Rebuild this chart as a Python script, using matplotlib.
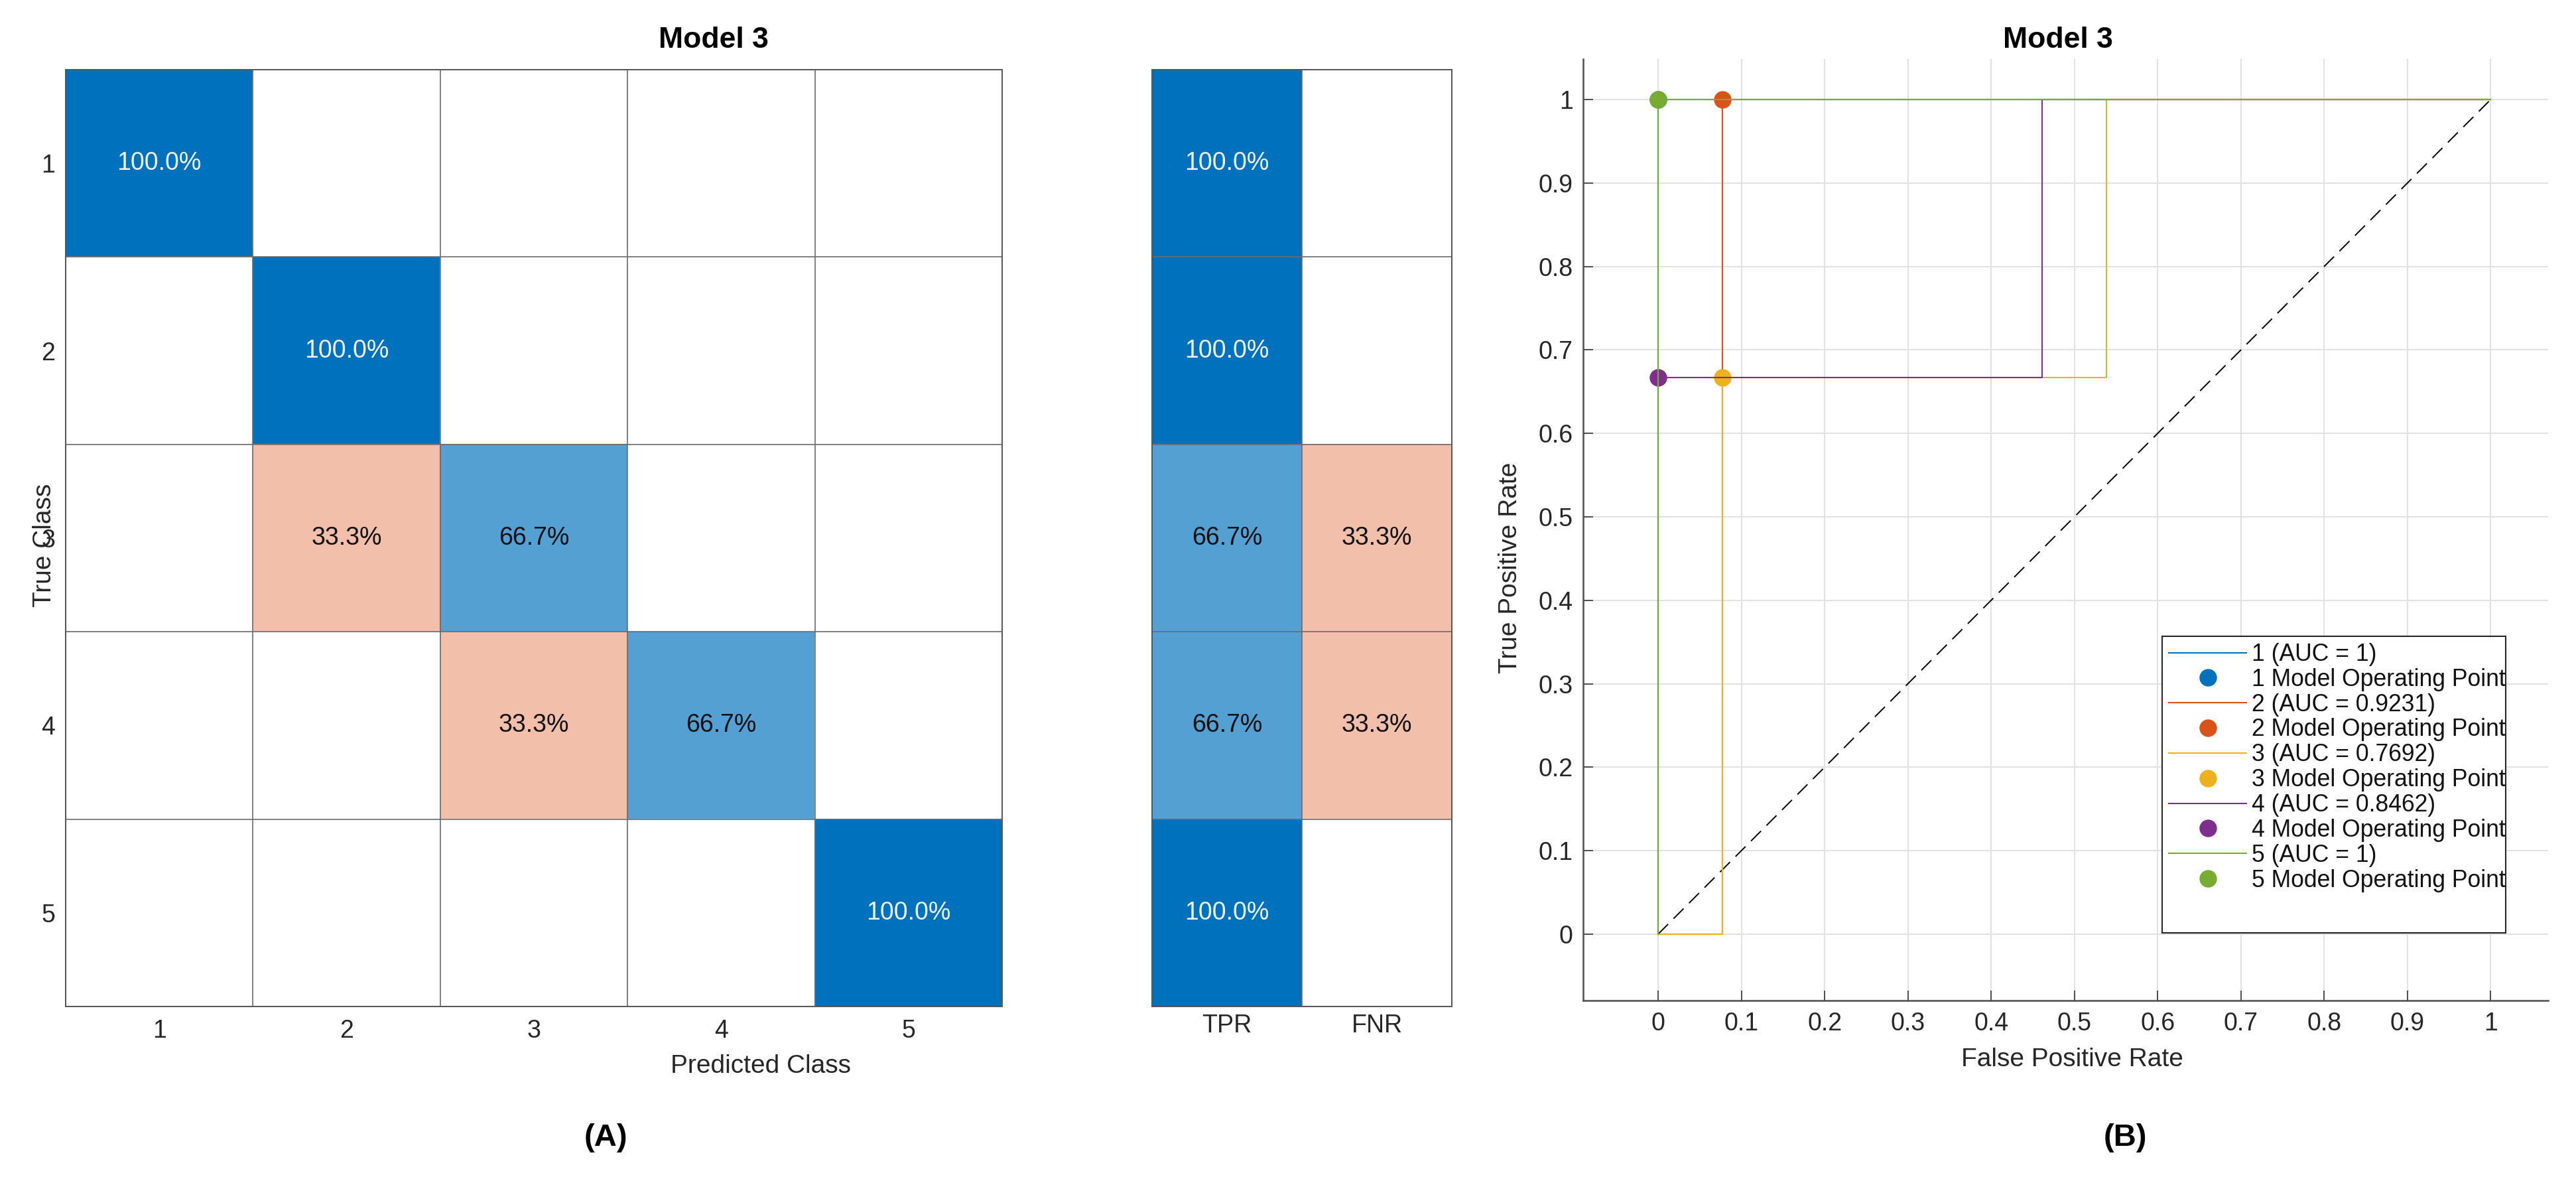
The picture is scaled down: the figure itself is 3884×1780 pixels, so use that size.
import matplotlib
matplotlib.use("Agg")
import matplotlib.pyplot as plt
import numpy as np
from matplotlib.patches import Rectangle
from matplotlib.ticker import FixedLocator, FormatStrFormatter

# ---------------- data ----------------
class_labels = ["1", "2", "3", "4", "5"]
# row-normalised confusion matrix (%), rows = true class, cols = predicted class
cm_pct = [
    [100.0, 0, 0, 0, 0],
    [0, 100.0, 0, 0, 0],
    [0, 33.3, 66.7, 0, 0],
    [0, 0, 33.3, 66.7, 0],
    [0, 0, 0, 0, 100.0],
]
summary_labels = ["TPR", "FNR"]
tpr_pct = [100.0, 100.0, 66.7, 66.7, 100.0]
fnr_pct = [0, 0, 33.3, 33.3, 0]

roc_fpr_1 = [0, 0, 1]
roc_tpr_1 = [0, 1, 1]
roc_fpr_2 = [0, 0.0769, 0.0769, 1]
roc_tpr_2 = [0, 0, 1, 1]
roc_fpr_3 = [0, 0.0769, 0.0769, 0.5385, 0.5385, 1]
roc_tpr_3 = [0, 0, 0.6667, 0.6667, 1, 1]
roc_fpr_4 = [0, 0, 0.4615, 0.4615, 1]
roc_tpr_4 = [0, 0.6667, 0.6667, 1, 1]
roc_fpr_5 = [0, 0, 1]
roc_tpr_5 = [0, 1, 1]
auc_values = ["1", "0.9231", "0.7692", "0.8462", "1"]
op_fpr = [0, 0.0769, 0.0769, 0, 0]
op_tpr = [1, 1, 0.6667, 0.6667, 1]
roc_ticks = [0, 0.1, 0.2, 0.3, 0.4, 0.5, 0.6, 0.7, 0.8, 0.9, 1]

roc_fpr = [roc_fpr_1, roc_fpr_2, roc_fpr_3, roc_fpr_4, roc_fpr_5]
roc_tpr = [roc_tpr_1, roc_tpr_2, roc_tpr_3, roc_tpr_4, roc_tpr_5]

# ---------------- style ----------------
plt.rcParams["font.family"] = ["Liberation Sans", "DejaVu Sans"]
W, H, DPI = 3884, 1780, 100
BLUE = (0 / 255, 114 / 255, 189 / 255)
ORANGE = (217 / 255, 83 / 255, 25 / 255)
OFF_GAIN = 1.1
line_colors = ["#0072BD", "#D95319", "#EDB120", "#7E2F8E", "#77AC30"]
TXT = "#262626"
GRIDC = "#6b6b6b"

fig = plt.figure(figsize=(W / DPI, H / DPI), dpi=DPI)
fig.patch.set_facecolor("white")


def axes_px(left, top, right, bottom):
    return fig.add_axes([left / W, 1 - bottom / H, (right - left) / W, (bottom - top) / H])


def shade(v, base, gain=1.0):
    a = min(1.0, v / 100.0 * gain)
    return tuple(1 - a * (1 - c) for c in base), a


def draw_cells(ax, values, diag_fn):
    values = np.asarray(values, dtype=float)
    nr, nc = values.shape
    rgb = np.ones((nr, nc, 3))
    for i in range(nr):
        for j in range(nc):
            v = values[i, j]
            if v > 0:
                is_diag = diag_fn(i, j)
                col, a = shade(v, BLUE if is_diag else ORANGE, 1.0 if is_diag else OFF_GAIN)
                rgb[i, j] = col
                ax.text(j, i, f"{v:.1f}%", ha="center", va="center", fontsize=27,
                        color="#f2f2f2" if a > 0.8 else "#111111", zorder=3)
    ax.imshow(rgb, aspect="auto", interpolation="nearest", zorder=0)
    ax.set_xticks(np.arange(-0.5, nc, 1), minor=True)
    ax.set_yticks(np.arange(-0.5, nr, 1), minor=True)
    ax.grid(which="minor", color=GRIDC, lw=1.2)
    ax.grid(which="major", visible=False)
    ax.tick_params(which="both", length=0)
    for s in ax.spines.values():
        s.set_color("#555555")
        s.set_linewidth(1.4)


# ---------------- (A) confusion matrix ----------------
CM_L, CM_T, CM_R, CM_B = 99, 105, 1511, 1517
ax_cm = axes_px(CM_L, CM_T, CM_R, CM_B)
draw_cells(ax_cm, cm_pct, lambda i, j: i == j)
ax_cm.set_xticks(range(5))
ax_cm.set_xticklabels(class_labels)
ax_cm.set_yticks(range(5))
ax_cm.set_yticklabels(class_labels)
ax_cm.tick_params(which="major", labelsize=27, labelcolor=TXT)
ax_cm.tick_params(axis="x", pad=14)
ax_cm.tick_params(axis="y", pad=11.5)
cw, ch = CM_R - CM_L, CM_B - CM_T
ax_cm.set_xlabel("Predicted Class", fontsize=28, color=TXT)
ax_cm.xaxis.set_label_coords((1147 - CM_L) / cw, (CM_B - 1607) / ch)
ax_cm.xaxis.label.set_va("center")
ax_cm.set_ylabel("True Class", fontsize=28, color=TXT)
ax_cm.yaxis.set_label_coords((67 - CM_L) / cw, (CM_B - 822) / ch)
ax_cm.yaxis.label.set_va("center")
ax_cm.set_title("Model 3", fontsize=32, fontweight="bold",
                x=(1076 - CM_L) / cw, y=(CM_B - 61) / ch, va="center", pad=0)

# summary (TPR / FNR)
SM_L, SM_R = 1737, 2189
ax_sm = axes_px(SM_L, CM_T, SM_R, CM_B)
summary = np.column_stack([tpr_pct, fnr_pct])
draw_cells(ax_sm, summary, lambda i, j: j == 0)
ax_sm.set_xticks(range(2))
ax_sm.set_xticklabels(summary_labels)
ax_sm.set_yticks([])
ax_sm.tick_params(which="major", labelsize=27, labelcolor=TXT)
ax_sm.tick_params(axis="x", pad=8)

# ---------------- (B) ROC ----------------
R_L, R_T, R_R, R_B = 2387, 89, 3842, 1508
ax_r = axes_px(R_L, R_T, R_R, R_B)
ax_r.plot([0, 1], [0, 1], color="black", lw=1.4, dashes=(11, 6), zorder=2)
for k in range(5):
    ax_r.plot(roc_fpr[k], roc_tpr[k], color=line_colors[k], lw=1.5,
              label=f"{class_labels[k]} (AUC = {auc_values[k]})")
    ax_r.plot([op_fpr[k]], [op_tpr[k]], linestyle="none", marker="o", ms=18,
              color=line_colors[k], label=f"{class_labels[k]} Model Operating Point")

ax_r.set_xlim(-0.090, 1.069)
ax_r.set_ylim(-0.0795, 1.0485)
ax_r.xaxis.set_major_locator(FixedLocator(roc_ticks))
ax_r.yaxis.set_major_locator(FixedLocator(roc_ticks))
ax_r.xaxis.set_major_formatter(FormatStrFormatter("%g"))
ax_r.yaxis.set_major_formatter(FormatStrFormatter("%g"))
ax_r.grid(True, color="#e2e2e2", lw=1.5)
ax_r.set_axisbelow(True)
for side in ["top", "right"]:
    ax_r.spines[side].set_visible(False)
for side in ["left", "bottom"]:
    ax_r.spines[side].set_color("#4d4d4d")
    ax_r.spines[side].set_linewidth(1.8)
ax_r.tick_params(direction="in", length=11, width=1.4, color="#4d4d4d",
                 labelsize=27, labelcolor=TXT)
ax_r.tick_params(axis="x", pad=12)
ax_r.tick_params(axis="y", pad=11)
rw, rh = R_R - R_L, R_B - R_T
ax_r.set_xlabel("False Positive Rate", fontsize=28, color=TXT)
ax_r.xaxis.set_label_coords((3124 - R_L) / rw, (R_B - 1597) / rh)
ax_r.xaxis.label.set_va("center")
ax_r.set_ylabel("True Positive Rate", fontsize=28, color=TXT)
ax_r.yaxis.set_label_coords((2277 - R_L) / rw, (R_B - 856) / rh)
ax_r.yaxis.label.set_va("center")
ax_r.set_title("Model 3", fontsize=32, fontweight="bold",
               x=(3103 - R_L) / rw, y=(R_B - 60) / rh, va="center", pad=0)

# legend with a fixed (clipping) frame like the original
LG_L, LG_T, LG_R, LG_B = 3260, 959, 3778, 1406
frame = Rectangle((LG_L / W, 1 - LG_B / H), (LG_R - LG_L) / W, (LG_B - LG_T) / H,
                  transform=fig.transFigure, facecolor="white", edgecolor="#262626",
                  lw=1.5, zorder=4, clip_on=False)
ax_r.add_patch(frame)
leg = ax_r.legend(loc="upper left", bbox_to_anchor=(LG_L / W, 1 - LG_T / H),
                  bbox_transform=fig.transFigure, frameon=False, fontsize=25.6,
                  borderaxespad=0, borderpad=0.28, labelspacing=0.08,
                  handlelength=3.3, handletextpad=0.23, numpoints=1)
leg.set_zorder(5)
for t in leg.get_texts():
    t.set_color("#111111")
    t.set_clip_path(frame)

# panel letters
fig.text(913 / W, 1 - 1715 / H, "(A)", fontsize=34, fontweight="bold", ha="center", va="center")
fig.text(3204 / W, 1 - 1715 / H, "(B)", fontsize=34, fontweight="bold", ha="center", va="center")

fig.savefig("out.png", dpi=DPI, facecolor="white")
